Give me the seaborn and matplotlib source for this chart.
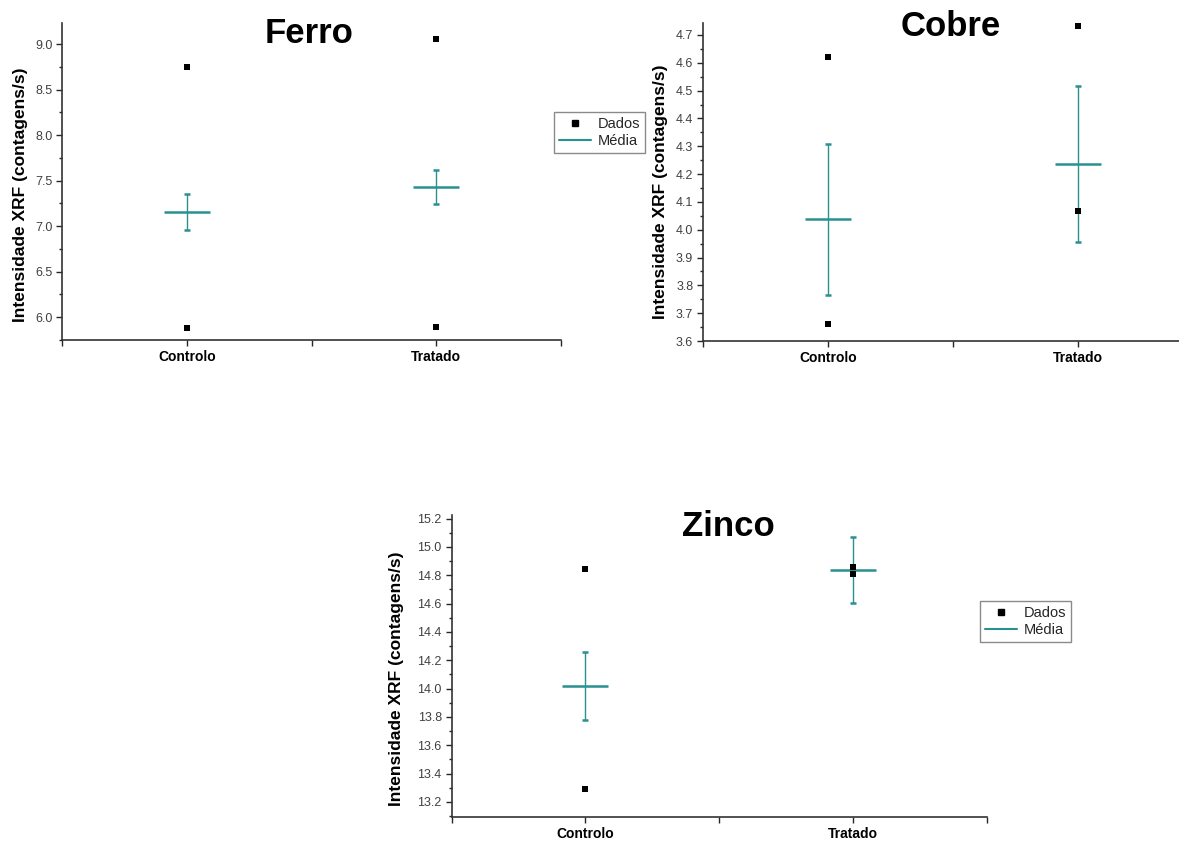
import numpy as np
import pandas as pd
import seaborn as sns
import matplotlib.pyplot as plt
from matplotlib.lines import Line2D
from matplotlib.ticker import MultipleLocator, FormatStrFormatter

# Data
categories = ['Controlo', 'Tratado']

ferro_controlo = [8.755, 5.880]
ferro_tratado = [9.062, 5.890]
ferro_media = [7.156, 7.430]
ferro_erro = [0.193, 0.190]

cobre_controlo = [4.622, 3.660]
cobre_tratado = [4.731, 4.068]
cobre_media = [4.037, 4.237]
cobre_erro = [0.270, 0.280]

zinco_controlo = [14.841, 13.291]
zinco_tratado = [14.858, 14.810]
zinco_media = [14.017, 14.836]
zinco_erro = [0.238, 0.233]

TEAL = '#2a9090'
W, H = 1179, 841

sns.set_theme(style='ticks')
plt.rcParams['font.family'] = ['Liberation Sans', 'DejaVu Sans']
plt.rcParams['axes.edgecolor'] = '#333333'
plt.rcParams['axes.linewidth'] = 1.2


def long_df(controlo, tratado):
    return pd.DataFrame({
        'grupo': [categories[0]] * len(controlo) + [categories[1]] * len(tratado),
        'valor': list(controlo) + list(tratado),
    })


def px_box(left, right, top, bottom):
    # pixel box -> figure fraction [left, bottom, width, height]
    return [left / W, 1 - bottom / H, (right - left) / W, (bottom - top) / H]


def draw_panel(ax, controlo, tratado, media, erro, ylim, major, minor):
    df = long_df(controlo, tratado)
    sns.stripplot(data=df, x='grupo', y='valor', order=categories, jitter=False,
                  color='black', marker='s', size=4.8, linewidth=0, ax=ax, zorder=3)
    ax.errorbar(np.arange(len(categories)), media, yerr=erro, fmt='_', color=TEAL,
                markersize=33, markeredgewidth=1.8, elinewidth=1.0,
                capsize=2.2, capthick=1.0, zorder=2)
    ax.set_xlim(-0.5, 1.5)
    ax.set_ylim(*ylim)
    ax.set_xticks([-0.5, 0, 0.5, 1, 1.5])
    ax.set_xticklabels(['', 'Controlo', '', 'Tratado', ''], fontsize=10,
                       fontweight='bold', color='black')
    ax.yaxis.set_major_locator(MultipleLocator(major))
    ax.yaxis.set_minor_locator(MultipleLocator(minor))
    ax.yaxis.set_major_formatter(FormatStrFormatter('%.1f'))
    ax.tick_params(axis='y', which='major', length=4, width=1, labelsize=9,
                   labelcolor='#404040', pad=3)
    ax.tick_params(axis='y', which='minor', length=2.5, width=1)
    ax.tick_params(axis='x', which='major', length=4, width=1, pad=3)
    ax.set_xlabel('')
    ax.set_ylabel('')
    ax.set_facecolor('white')
    sns.despine(ax=ax)


fig = plt.figure(figsize=(W / 100, H / 100), dpi=100)

ax_fe = fig.add_axes(px_box(62, 561, 22.7, 340))
ax_cu = fig.add_axes(px_box(703, 1203, 22.7, 341))
ax_zn = fig.add_axes(px_box(451.5, 987, 515, 817))

draw_panel(ax_fe, ferro_controlo, ferro_tratado, ferro_media, ferro_erro,
           (5.748, 9.237), 0.5, 0.25)
draw_panel(ax_cu, cobre_controlo, cobre_tratado, cobre_media, cobre_erro,
           (3.6, 4.744), 0.1, 0.05)
draw_panel(ax_zn, zinco_controlo, zinco_tratado, zinco_media, zinco_erro,
           (13.094, 15.225), 0.2, 0.1)

# titles
title_font = ['Liberation Sans Narrow', 'Liberation Sans', 'DejaVu Sans']
for name, (x, y) in [('Ferro', (309, 43)), ('Cobre', (951, 36)), ('Zinco', (728, 536))]:
    fig.text(x / W, 1 - y / H, name, ha='center', va='baseline', fontsize=25,
             fontweight='bold', family=title_font, color='black')

# y labels
ylab = 'Intensidade XRF (contagens/s)'
for (x, y) in [(21, 194.5), (661, 192), (397, 678.5)]:
    fig.text(x / W, 1 - y / H, ylab, rotation=90, ha='center', va='center',
             fontsize=12.5, fontweight='bold', color='black')

# legends
handles = [
    Line2D([], [], marker='s', color='black', linestyle='none', markersize=4.6),
    Line2D([], [], color=TEAL, linewidth=1.5),
]
labels = ['Dados', 'Média']
for ax, (x, y) in [(ax_fe, (554, 112)), (ax_zn, (980, 601))]:
    leg = ax.legend(handles, labels, loc='upper left',
                    bbox_to_anchor=(x / W, 1 - y / H), bbox_transform=fig.transFigure,
                    fontsize=10.5, frameon=True, fancybox=False, framealpha=1,
                    edgecolor='#8a8a8a', handlelength=2.2, handletextpad=0.45,
                    labelspacing=0.2, borderpad=0.35, borderaxespad=0)
    leg.get_frame().set_linewidth(1.0)

fig.savefig('out.png', dpi=100, facecolor='white')
